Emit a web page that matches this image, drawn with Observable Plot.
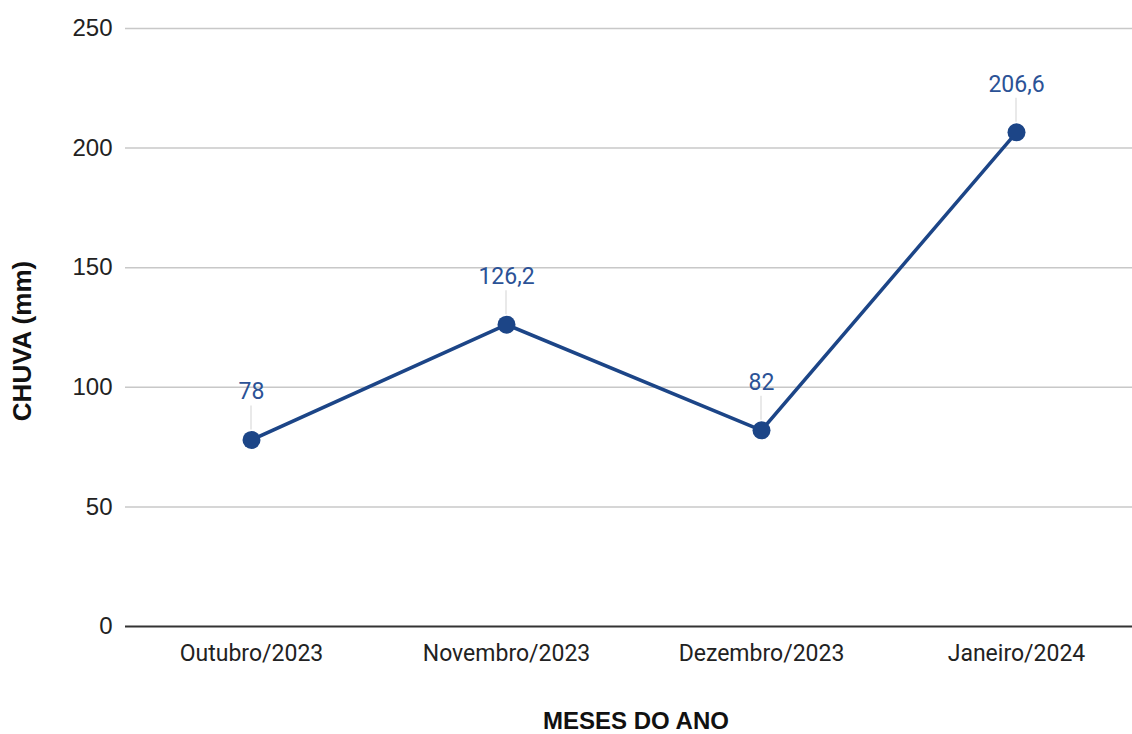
<!DOCTYPE html>
<html><head><meta charset="utf-8">
<script src="https://cdn.jsdelivr.net/npm/d3@7"></script>
<script src="https://cdn.jsdelivr.net/npm/@observablehq/plot@0.6"></script>
<style>
body{margin:0;background:#fff;}
#chart svg{display:block;}
</style>
</head><body><div id="chart"></div>
<script>
const months = ["Outubro/2023", "Novembro/2023", "Dezembro/2023", "Janeiro/2024"];
const rain = [78, 126.2, 82, 206.6];
const yTicks = [0, 50, 100, 150, 200, 250];
const xTitle = "MESES DO ANO";
const yTitle = "CHUVA (mm)";

const data = months.map((m, i) => ({month: m, value: rain[i]}));
const fmt = v => String(v).replace(".", ",");
const lineColor = "#1c4587";
const labelColor = "#2b5296";

const plot = Plot.plot({
  width: 1132,
  height: 734,
  marginTop: 28,
  marginBottom: 108,
  marginLeft: 125,
  marginRight: 0,
  style: {fontFamily: "Roboto, Arial, sans-serif", color: "#222", background: "#fff"},
  x: {type: "point", domain: months, range: [251, 1016], padding: 0, label: null},
  y: {type: "linear", domain: [0, 250], range: [626, 28], ticks: yTicks, label: null},
  marks: [
    Plot.gridY(yTicks.filter(t => t > 0), {stroke: "#c8c8c8", strokeOpacity: 1, strokeWidth: 1.5}),
    Plot.axisY(yTicks, {tickSize: 0, tickPadding: 13, fill: "#222", label: null}),
    Plot.axisX({tickSize: 0, tickPadding: 18, fill: "#222", label: null}),
    Plot.ruleY([0], {stroke: "#333", strokeWidth: 2}),
    Plot.line(data, {x: "month", y: "value", stroke: lineColor, strokeWidth: 3.5}),
    Plot.dot(data, {x: "month", y: "value", r: 9, fill: lineColor, stroke: "none"}),
    Plot.text(data, {x: "month", y: "value", text: d => fmt(d.value), dy: -48, fill: labelColor, fontSize: 23, fontFamily: "Roboto, sans-serif"})
  ]
});

document.getElementById("chart").appendChild(plot);
const svg = d3.select(plot);
svg.selectAll("g[aria-label='y-axis tick label']").attr("font-size", 24).attr("font-family", "Liberation Sans, Arial, sans-serif")
  .selectAll("text").attr("font-size", 24);
svg.selectAll("g[aria-label='x-axis tick label']").attr("font-size", 23).attr("font-family", "Roboto, sans-serif")
  .selectAll("text").attr("font-size", 23);

const sx = plot.scale("x"), sy = plot.scale("y");
const g = svg.insert("g", ":scope > g[aria-label='line']");
data.forEach(d => {
  const x = sx.apply(d.month), y = sy.apply(d.value);
  g.append("line").attr("x1", x).attr("x2", x).attr("y1", y - 10).attr("y2", y - 34)
    .attr("stroke", "#e2e2e2").attr("stroke-width", 1.5);
});
// axis titles
svg.append("text").attr("x", 636).attr("y", 729).attr("text-anchor", "middle")
  .attr("font-family", "Liberation Sans, Arial, sans-serif").attr("font-weight", "bold")
  .attr("font-size", 24).attr("fill", "#111").text(xTitle);
svg.append("text").attr("transform", "translate(31,341) rotate(-90)").attr("text-anchor", "middle")
  .attr("font-family", "Liberation Sans, Arial, sans-serif").attr("font-weight", "bold")
  .attr("font-size", 26).attr("fill", "#111").text(yTitle);
</script>
</body></html>
